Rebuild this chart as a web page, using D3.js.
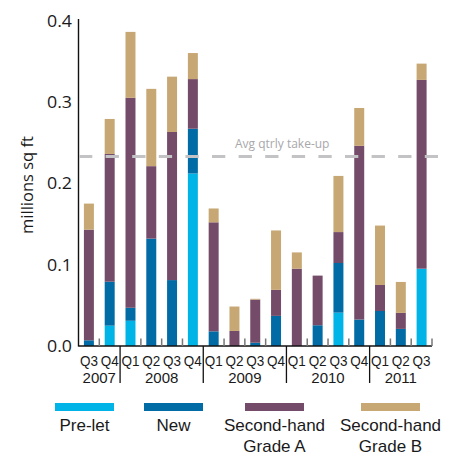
<!DOCTYPE html>
<html><head><meta charset="utf-8">
<script src="https://cdn.jsdelivr.net/npm/d3@7"></script>
<style>body{margin:0;background:#fff}svg{display:block}text{font-family:"Open Sans","Noto Sans",sans-serif}text.xl{font-family:"Liberation Sans",Arial,sans-serif}</style>
</head><body>
<svg id="c" width="457" height="455"></svg>
<script>
const quarters = ["Q3","Q4","Q1","Q2","Q3","Q4","Q1","Q2","Q3","Q4","Q1","Q2","Q3","Q4","Q1","Q2","Q3"];
const years = ["2007","2007","2008","2008","2008","2008","2009","2009","2009","2009","2010","2010","2010","2010","2011","2011","2011"];
const preLet  = [0, 0.025, 0.031, 0, 0, 0.212, 0, 0, 0, 0, 0, 0, 0.041, 0, 0, 0, 0.095];
const newBuild= [0.007, 0.054, 0.016, 0.132, 0.081, 0.055, 0.018, 0, 0.004, 0.037, 0, 0.0255, 0.061, 0.0325, 0.043, 0.021, 0];
const gradeA  = [0.136, 0.157, 0.258, 0.089, 0.182, 0.061, 0.134, 0.0185, 0.053, 0.032, 0.095, 0.061, 0.038, 0.2135, 0.032, 0.0197, 0.232];
const gradeB  = [0.032, 0.043, 0.081, 0.095, 0.068, 0.032, 0.017, 0.030, 0.001, 0.073, 0.020, 0, 0.069, 0.0465, 0.073, 0.038, 0.020];
const seriesNames = ["Pre-let","New","Second-hand Grade A","Second-hand Grade B"];
const legendLabels = [["Pre-let"],["New"],["Second-hand","Grade A"],["Second-hand","Grade B"]];
const colors = ["#00b4e8","#006ba4","#744c69","#c7a773"];
const yTicks = [0, 0.1, 0.2, 0.3, 0.4];
const avgTakeUp = 0.233;
const avgLabel = "Avg qtrly take-up";
const yTitle = "millions sq ft";

const svg = d3.select("#c");
const idx = d3.range(quarters.length);
const x = d3.scaleBand().domain(idx).range([78.5, 432]).paddingInner(0.52).paddingOuter(0.26);
const y = d3.scaleLinear().domain([0, 0.4]).range([346, 20.5]);

const table = idx.map(i => ({i, "Pre-let": preLet[i], "New": newBuild[i], "Second-hand Grade A": gradeA[i], "Second-hand Grade B": gradeB[i]}));
const stacked = d3.stack().keys(seriesNames)(table);

svg.append("g").selectAll("g").data(stacked).join("g")
  .attr("fill", (d, k) => colors[k])
  .selectAll("rect").data(d => d).join("rect")
  .attr("x", d => x(d.data.i))
  .attr("width", x.bandwidth())
  .attr("y", d => y(d[1]))
  .attr("height", d => Math.max(0, y(d[0]) - y(d[1])));

// axes
const step = x.step();
const left = 78.5, right = 432;
svg.append("line").attr("x1", left).attr("x2", left).attr("y1", 19).attr("y2", 346.5).attr("stroke", "#111").attr("stroke-width", 1.4);
svg.append("line").attr("x1", left).attr("x2", right).attr("y1", 346).attr("y2", 346).attr("stroke", "#111").attr("stroke-width", 1.6);

// boundary ticks
const bounds = d3.range(1, quarters.length + 1);
bounds.forEach(b => {
  const bx = left + b * step;
  const yearBoundary = b < quarters.length && years[b] !== years[b - 1];
  if (yearBoundary) {
    svg.append("line").attr("x1", bx).attr("x2", bx).attr("y1", 346).attr("y2", 383).attr("stroke", "#111").attr("stroke-width", 1.3);
  } else {
    svg.append("line").attr("x1", bx).attr("x2", bx).attr("y1", 338.5).attr("y2", 346).attr("stroke", "#777").attr("stroke-width", 1.5);
  }
});

// y tick labels
svg.append("g").selectAll("text").data(yTicks).join("text")
  .attr("x", 72).attr("y", d => y(d)).attr("dy", "0.36em")
  .attr("text-anchor", "end").attr("font-size", 17).attr("fill", "#1a1a1a")
  .attr("textLength", 25).attr("lengthAdjust", "spacingAndGlyphs")
  .text(d => d3.format(".1f")(d));

// y title
svg.append("text").attr("transform", "translate(33,185) rotate(-90)")
  .attr("text-anchor", "middle").attr("font-size", 16.5).attr("fill", "#1a1a1a").text(yTitle);

// quarter labels
svg.append("g").selectAll("text").data(idx).join("text").attr("class", "xl")
  .attr("x", i => x(i) + x.bandwidth() / 2).attr("y", 365.5)
  .attr("text-anchor", "middle").attr("font-size", 15).attr("fill", "#1a1a1a")
  .attr("textLength", 18).attr("lengthAdjust", "spacingAndGlyphs")
  .text(i => quarters[i]);

// year labels
const yearGroups = d3.groups(idx, i => years[i]);
svg.append("g").selectAll("text").data(yearGroups).join("text").attr("class", "xl")
  .attr("x", d => (x(d[1][0]) + x(d[1][d[1].length - 1]) + x.bandwidth()) / 2)
  .attr("y", 382.5)
  .attr("text-anchor", "middle").attr("font-size", 15).attr("fill", "#1a1a1a")
  .text(d => d[0]);

// average line
svg.append("line").attr("x1", 79).attr("x2", 438).attr("y1", y(avgTakeUp)).attr("y2", y(avgTakeUp))
  .attr("stroke", "#c3c3c6").attr("stroke-width", 3).attr("stroke-dasharray", "13.3,13.3");
svg.append("text").attr("x", 235).attr("y", 148).attr("font-size", 12).attr("fill", "#a8a8ab").text(avgLabel);

// legend
const legendCenters = [84.5, 173.5, 274.5, 390.5];
const lg = svg.append("g").selectAll("g").data(seriesNames).join("g");
lg.append("rect").attr("x", (d, k) => legendCenters[k] - 29.5).attr("y", 403).attr("width", 59).attr("height", 8)
  .attr("fill", (d, k) => colors[k]);
lg.append("text").attr("class", "xl").attr("y", 431)
  .attr("text-anchor", "middle").attr("font-size", 17).attr("fill", "#1a1a1a")
  .each(function(d, k) {
    const t = d3.select(this);
    legendLabels[k].forEach((s, j) => {
      t.append("tspan").attr("x", legendCenters[k]).attr("dy", j === 0 ? 0 : 20.5).text(s);
    });
  });
</script>
</body></html>
